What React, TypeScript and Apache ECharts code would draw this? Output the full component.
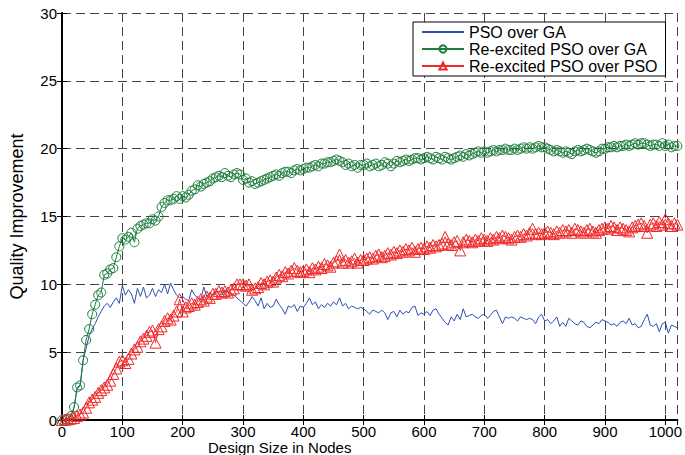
import React, { useEffect, useRef } from "react";
import * as echarts from "echarts";

const nodeStep = 5;

const psoOverGA = [
  0, 0.05, 0.1, 0.3, 0.9, 2.3, 2.5, 4.4, 5.3, 6.2, 6.7, 7.1, 7.6, 8.0, 8.4, 8.6, 8.3, 8.7, 9.0, 8.6,
  9.9, 9.2, 9.6, 9.3, 8.6, 9.7, 9.1, 9.8, 9.0, 9.2, 9.7, 9.1, 9.6, 9.4, 10.0, 9.3, 10.1, 9.6, 9.2, 9.0,
  9.1, 8.9, 8.8, 9.6, 9.2, 9.0, 8.9, 9.8, 9.1, 9.4, 9.2, 9.5, 9.3, 9.2, 9.6, 9.4, 9.3, 9.2, 9.0, 8.8,
  8.6, 8.4, 8.7, 9.1, 8.8, 8.4, 9.0, 8.2, 8.6, 8.3, 8.4, 8.9, 8.5, 8.2, 7.8, 8.4, 8.3, 8.5, 8.0, 8.4,
  8.3, 8.6, 9.0, 8.5, 8.7, 8.2, 8.5, 8.3, 8.6, 8.4, 8.7, 8.5, 9.0, 8.4, 8.6, 8.2, 8.4, 8.3, 8.2, 8.3,
  8.2, 8.0, 7.8, 8.1, 8.0, 7.9, 8.1, 7.9, 7.4, 7.9, 8.0, 7.6, 8.1, 7.8, 8.0, 7.9, 8.3, 8.4, 7.7, 7.9,
  7.8, 8.0, 7.7, 8.1, 8.2, 7.8, 7.5, 7.2, 7.0, 7.6, 7.3, 7.8, 7.4, 8.2, 7.6, 7.7, 7.8, 7.6, 7.5, 7.7,
  7.8, 7.5, 7.7, 8.0, 8.1, 7.6, 7.1, 7.6, 7.5, 7.6, 7.5, 7.3, 7.6, 7.5, 7.4, 7.5, 7.4, 7.1, 7.6, 7.8,
  7.3, 7.4, 7.1, 7.3, 7.6, 6.9, 7.2, 6.9, 7.5, 7.3, 7.1, 7.0, 7.3, 7.2, 6.9, 6.8, 7.0, 7.2, 7.1, 7.4,
  7.3, 7.2, 7.0, 7.1, 6.9, 7.2, 7.3, 7.1, 7.5, 7.0, 7.1, 6.8, 6.9, 7.4, 7.8, 7.0, 6.9, 7.1, 6.5, 7.1,
  7.2, 6.4, 7.0, 6.9, 6.8,
];

const reexcitedOverGA = [
  0, 0.05, 0.1, 0.3, 0.95, 2.4, 2.55, 4.4, 5.9, 6.7, 7.8, 8.5, 9.2, 9.4, 10.7, 10.8, 11.1, 11.2, 12.0, 12.8,
  13.4, 13.3, 13.5, 13.8, 13.1, 14.1, 14.3, 14.4, 14.5, 14.5, 14.8, 14.7, 15.0, 15.7, 16.0, 16.2, 16.2, 16.3, 16.5, 16.3,
  16.5, 16.4, 16.6, 16.9, 17.0, 17.3, 17.2, 17.4, 17.5, 17.6, 17.8, 17.9, 18.0, 17.9, 18.2, 18.0, 17.9, 18.1, 18.2, 18.1,
  17.7, 17.8, 17.5, 17.6, 17.4, 17.5, 17.6, 17.7, 17.8, 17.9, 18.0, 18.1, 18.0, 18.2, 18.3, 18.3, 18.2, 18.4, 18.5, 18.4,
  18.5, 18.6, 18.6, 18.7, 18.8, 18.7, 18.9, 18.9, 19.0, 19.0, 19.1, 19.2, 19.1, 19.0, 18.8, 18.9, 18.7, 18.8, 18.6, 18.8,
  18.8, 18.9, 18.7, 18.8, 18.9, 18.7, 18.8, 19.0, 18.9, 18.7, 18.9, 19.1, 19.0, 19.1, 19.2, 19.1, 19.2, 19.3, 19.3, 19.2,
  19.3, 19.4, 19.3, 19.2, 19.4, 19.3, 19.2, 19.4, 19.3, 19.2, 19.3, 19.4, 19.5, 19.4, 19.6, 19.5, 19.6, 19.7, 19.8, 19.7,
  19.8, 19.7, 19.8, 19.9, 19.8, 19.9, 19.9, 20.0, 19.9, 19.9, 20.0, 19.9, 20.0, 20.1, 20.0, 20.1, 20.0, 20.1, 20.2, 20.1,
  20.1, 20.0, 19.9, 19.8, 19.9, 19.8, 19.7, 19.8, 19.7, 19.6, 19.8, 19.9, 19.8, 19.9, 20.0, 19.9, 19.8, 19.7, 19.8, 20.0,
  20.0, 20.1, 20.1, 20.2, 20.1, 20.2, 20.2, 20.3, 20.2, 20.3, 20.4, 20.3, 20.4, 20.4, 20.3, 20.2, 20.3, 20.3, 20.2, 20.4,
  20.2, 20.3, 20.1, 20.2, 20.2,
];

const reexcitedOverPSO = [
  0, 0.02, 0.05, 0.1, 0.15, 0.3, 0.4, 0.55, 0.9, 1.3, 1.5, 1.7, 2.0, 2.2, 2.4, 2.6, 2.9, 3.4, 3.8, 4.3,
  4.4, 4.2, 4.5, 4.9, 5.2, 5.4, 5.8, 6.0, 6.2, 6.5, 6.6, 5.7, 6.7, 6.9, 7.3, 7.5, 7.4, 7.7, 8.0, 8.9,
  8.0, 8.3, 8.4, 8.6, 8.5, 8.7, 8.9, 8.8, 9.1, 9.0, 9.3, 9.3, 9.5, 9.4, 9.5, 9.4, 9.6, 9.7, 10.0, 10.0,
  10.0, 9.9, 10.0, 9.6, 9.7, 9.8, 10.1, 10.0, 10.2, 10.3, 10.2, 10.5, 10.7, 10.6, 10.9, 10.8, 11.0, 11.2, 11.0, 10.9,
  11.0, 11.1, 10.9, 11.2, 11.1, 11.3, 11.2, 11.5, 11.4, 11.3, 11.6, 11.7, 12.2, 11.6, 11.8, 11.6, 11.7, 11.9, 11.6, 11.8,
  11.8, 11.9, 12.0, 11.9, 12.1, 12.2, 12.0, 12.1, 12.3, 12.2, 12.4, 12.3, 12.5, 12.4, 12.6, 12.5, 12.7, 12.4, 12.6, 12.7,
  12.6, 12.8, 12.7, 12.9, 12.8, 12.9, 13.0, 13.5, 13.0, 12.9, 13.1, 13.2, 12.5, 13.1, 13.3, 13.2, 13.1, 13.3, 13.2, 13.4,
  13.3, 13.2, 13.4, 13.3, 13.5, 13.4, 13.6, 13.5, 13.4, 13.3, 13.5, 13.6, 13.5, 13.7, 13.6, 13.8, 14.1, 13.7, 13.8, 13.7,
  13.8, 13.9, 13.8, 13.7, 13.9, 13.8, 14.0, 13.9, 14.0, 13.8, 14.1, 14.0, 13.9, 13.8, 14.0, 14.1, 13.9, 13.8, 14.0, 14.1,
  14.2, 14.1, 14.3, 14.2, 14.0, 14.2, 14.1, 14.0, 13.9, 14.2, 14.3, 14.4, 14.5, 14.3, 13.8, 14.4, 14.5, 14.3, 14.6, 14.4,
  14.8, 14.5, 14.3, 14.5, 14.4,
];

const xTicks = { min: 0, max: 1020, interval: 100 };
const yTicks = { min: 0, max: 30, interval: 5 };

const seriesNames = ["PSO over GA", "Re-excited PSO over GA", "Re-excited PSO over PSO"];
const seriesColors = ["#2f4fb0", "#1c7d3c", "#f02828"];

const FONT = "'Liberation Sans', Arial, sans-serif";

function pair(values: number[]) {
  return values.map((v, i) => [i * nodeStep, v]);
}

export default function App() {
  const ref = useRef<HTMLDivElement>(null);

  useEffect(() => {
    if (!ref.current) return;
    const chart = echarts.init(ref.current, undefined, { renderer: "svg" });
    const gridLine = { show: true, lineStyle: { color: "#444", type: [9, 5] as any, width: 1 } };
    const axisLineStyle = { show: true, lineStyle: { color: "#000", width: 2 } };
    const tick = { show: true, inside: true, length: 5, lineStyle: { color: "#000" } };
    chart.setOption({
      animation: false,
      backgroundColor: "#fff",
      grid: { left: 60, top: 13, right: 7, bottom: 35, containLabel: false },
      legend: {
        orient: "vertical",
        left: 413,
        top: 22,
        padding: [2, 8, 2, 8],
        itemGap: 1,
        itemWidth: 42,
        itemHeight: 9,
        backgroundColor: "#fff",
        borderColor: "#000",
        borderWidth: 1,
        textStyle: { fontFamily: FONT, fontSize: 16, color: "#000" },
        data: [
          { name: seriesNames[0], itemStyle: { opacity: 0, color: "rgba(0,0,0,0)", borderWidth: 0 } },
          { name: seriesNames[1] },
          { name: seriesNames[2] },
        ],
      },
      xAxis: [
        {
          type: "value",
          min: xTicks.min,
          max: xTicks.max,
          interval: xTicks.interval,
          axisLine: axisLineStyle,
          axisTick: tick,
          axisLabel: {
            fontFamily: FONT,
            fontSize: 15,
            lineHeight: 14,
            color: "#000",
            margin: 4,
            showMaxLabel: false,
            formatter: (v: number) => String(v),
          },
          splitLine: gridLine,
        },
        {
          type: "value",
          position: "top",
          min: xTicks.min,
          max: xTicks.max,
          interval: xTicks.interval,
          axisLine: { show: true, lineStyle: { color: "#000", width: 1.5 } },
          axisTick: tick,
          axisLabel: { show: false },
          splitLine: { show: false },
        },
      ],
      yAxis: [
        {
          type: "value",
          min: yTicks.min,
          max: yTicks.max,
          interval: yTicks.interval,
          name: "Quality Improvement",
          nameLocation: "middle",
          nameGap: 36,
          nameTextStyle: { fontFamily: FONT, fontSize: 18, color: "#000" },
          axisLine: axisLineStyle,
          axisTick: tick,
          axisLabel: { fontFamily: FONT, fontSize: 15, color: "#000", margin: 5 },
          splitLine: gridLine,
        },
        {
          type: "value",
          position: "right",
          min: yTicks.min,
          max: yTicks.max,
          interval: yTicks.interval,
          axisLine: { show: true, lineStyle: { color: "#000", width: 1.5 } },
          axisTick: tick,
          axisLabel: { show: false },
          splitLine: { show: false },
        },
      ],
      graphic: [
        {
          type: "text",
          left: 208,
          top: 440,
          style: { text: "Design Size in Nodes", fontFamily: FONT, fontSize: 15, lineHeight: 15, fill: "#000" },
        },
      ],
      series: [
        {
          name: seriesNames[0],
          type: "line",
          data: pair(psoOverGA),
          showSymbol: false,
          symbol: "none",
          color: seriesColors[0],
          lineStyle: { color: seriesColors[0], width: 1 },
          z: 2,
        },
        {
          name: seriesNames[1],
          type: "line",
          data: pair(reexcitedOverGA),
          symbol: "circle",
          symbolSize: 9,
          showAllSymbol: true,
          color: seriesColors[1],
          itemStyle: { color: "rgba(255,255,255,0)", borderColor: seriesColors[1], borderWidth: 1 },
          lineStyle: { color: seriesColors[1], width: 1 },
          z: 3,
        },
        {
          name: seriesNames[2],
          type: "line",
          data: pair(reexcitedOverPSO),
          symbol: "triangle",
          symbolSize: 11,
          showAllSymbol: true,
          color: seriesColors[2],
          itemStyle: { color: "rgba(255,255,255,0)", borderColor: seriesColors[2], borderWidth: 1 },
          lineStyle: { color: seriesColors[2], width: 1 },
          z: 4,
        },
      ],
    });
    return () => chart.dispose();
  }, []);

  return <div ref={ref} style={{ width: 685, height: 455, position: "absolute", left: 0, top: 0 }} />;
}
